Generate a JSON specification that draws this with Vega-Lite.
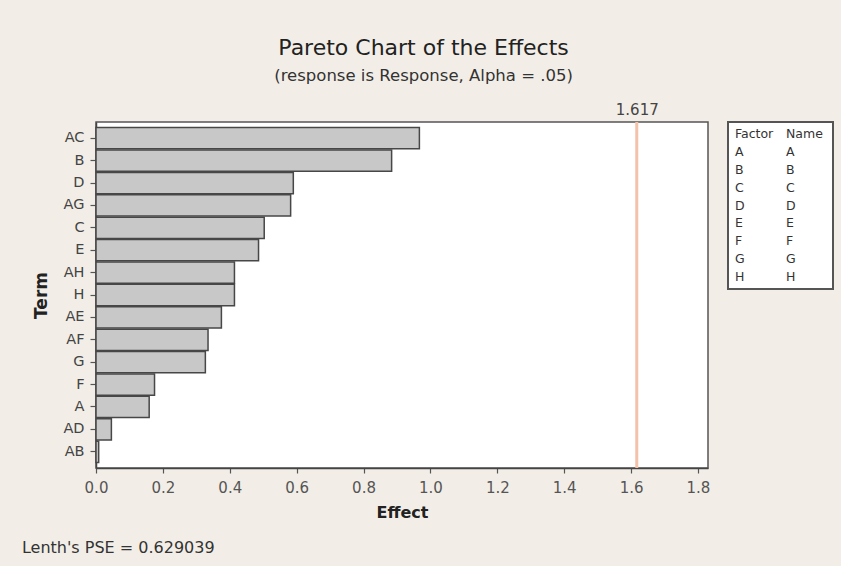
{
  "$schema": "https://vega.github.io/schema/vega-lite/v6.json",
  "background": "#F2EEE7",
  "padding": {"left": 21, "top": 36, "right": 8, "bottom": 14},
  "title": {
    "text": "Pareto Chart of the Effects",
    "subtitle": "(response is Response, Alpha = .05)",
    "font": "DejaVu Sans",
    "fontSize": 22,
    "fontWeight": "normal",
    "color": "#222222",
    "subtitleFont": "DejaVu Sans",
    "subtitleFontSize": 16.5,
    "subtitleColor": "#333333",
    "subtitlePadding": 8,
    "anchor": "middle",
    "frame": "bounds",
    "dx": -4,
    "offset": 16
  },
  "datasets": {
    "effects": [
      {"term": "AC", "effect": 0.967},
      {"term": "B", "effect": 0.884},
      {"term": "D", "effect": 0.590},
      {"term": "AG", "effect": 0.582},
      {"term": "C", "effect": 0.503},
      {"term": "E", "effect": 0.486},
      {"term": "AH", "effect": 0.414},
      {"term": "H", "effect": 0.414},
      {"term": "AE", "effect": 0.375},
      {"term": "AF", "effect": 0.335},
      {"term": "G", "effect": 0.327},
      {"term": "F", "effect": 0.175},
      {"term": "A", "effect": 0.159},
      {"term": "AD", "effect": 0.046},
      {"term": "AB", "effect": 0.008}
    ],
    "threshold": [{"critical": 1.617}],
    "factors": [
      {"factor": "Factor", "name": "Name"},
      {"factor": "A", "name": "A"},
      {"factor": "B", "name": "B"},
      {"factor": "C", "name": "C"},
      {"factor": "D", "name": "D"},
      {"factor": "E", "name": "E"},
      {"factor": "F", "name": "F"},
      {"factor": "G", "name": "G"},
      {"factor": "H", "name": "H"}
    ]
  },
  "spacing": 20,
  "bounds": "flush",
  "hconcat": [
    {
      "width": 612,
      "height": 346,
      "view": {"fill": "#FFFFFF", "stroke": "#555555", "strokeWidth": 1.5},
      "title": {
        "text": "Lenth's PSE = 0.629039",
        "orient": "bottom",
        "anchor": "start",
        "frame": "bounds",
        "font": "DejaVu Sans",
        "fontSize": 16,
        "fontWeight": "normal",
        "color": "#333333",
        "dx": -10.7,
        "offset": 19
      },
      "resolve": {"axis": {"x": "independent"}},
      "layer": [
        {
          "data": {"name": "effects"},
          "mark": {"type": "bar", "fill": "#C8C8C8", "stroke": "#474747", "strokeWidth": 1.5},
          "encoding": {
            "y": {
              "field": "term",
              "type": "nominal",
              "sort": null,
              "scale": {"paddingInner": 0.05, "paddingOuter": 0.25},
              "axis": {
                "title": "Term",
                "titleFont": "DejaVu Sans",
                "titleFontSize": 17,
                "titleFontWeight": "bold",
                "titleColor": "#222222",
                "titlePadding": 12.3,
                "labelFont": "DejaVu Sans",
                "labelFontSize": 14.5,
                "labelColor": "#444444",
                "labelPadding": 6,
                "tickSize": 6,
                "tickColor": "#555555",
                "tickWidth": 1.2,
                "domainColor": "#444444",
                "domainWidth": 1.5
              }
            },
            "x": {
              "field": "effect",
              "type": "quantitative",
              "scale": {"domain": [0, 1.83], "nice": false},
              "axis": {
                "orient": "bottom",
                "values": [0, 0.2, 0.4, 0.6, 0.8, 1.0, 1.2, 1.4, 1.6, 1.8],
                "format": ".1f",
                "grid": false,
                "labelFlush": false,
                "title": "Effect",
                "titleFont": "DejaVu Sans",
                "titleFontSize": 16,
                "titleFontWeight": "bold",
                "titleColor": "#222222",
                "titlePadding": 9.5,
                "labelFont": "DejaVu Sans",
                "labelFontSize": 15,
                "labelColor": "#555555",
                "labelPadding": 7,
                "tickSize": 5,
                "tickColor": "#555555",
                "tickWidth": 1.2,
                "domainColor": "#444444",
                "domainWidth": 1.5
              }
            }
          }
        },
        {
          "data": {"name": "threshold"},
          "mark": {"type": "rule", "color": "#F2C2AA", "strokeWidth": 3},
          "encoding": {
            "x": {
              "field": "critical",
              "type": "quantitative",
              "axis": {
                "orient": "top",
                "values": [1.617],
                "format": ".3f",
                "grid": false,
                "labelFlush": false,
                "domain": false,
                "ticks": false,
                "title": null,
                "labelFont": "DejaVu Sans",
                "labelFontSize": 15,
                "labelColor": "#444444",
                "labelPadding": 5
              }
            }
          }
        }
      ]
    },
    {
      "width": 105,
      "height": 167,
      "view": {"fill": "#FFFFFF", "stroke": "#555555", "strokeWidth": 2},
      "data": {"name": "factors"},
      "transform": [{"fold": ["factor", "name"], "as": ["column", "label"]}],
      "mark": {"type": "text", "align": "left", "baseline": "middle", "font": "DejaVu Sans", "fontSize": 12.5, "color": "#333333"},
      "encoding": {
        "x": {"field": "column", "type": "nominal", "scale": {"type": "point", "range": [7, 58], "padding": 0}, "axis": null},
        "y": {"field": "factor", "type": "nominal", "sort": null, "scale": {"type": "point", "padding": 0.68}, "axis": null},
        "text": {"field": "label"}
      }
    }
  ]
}
